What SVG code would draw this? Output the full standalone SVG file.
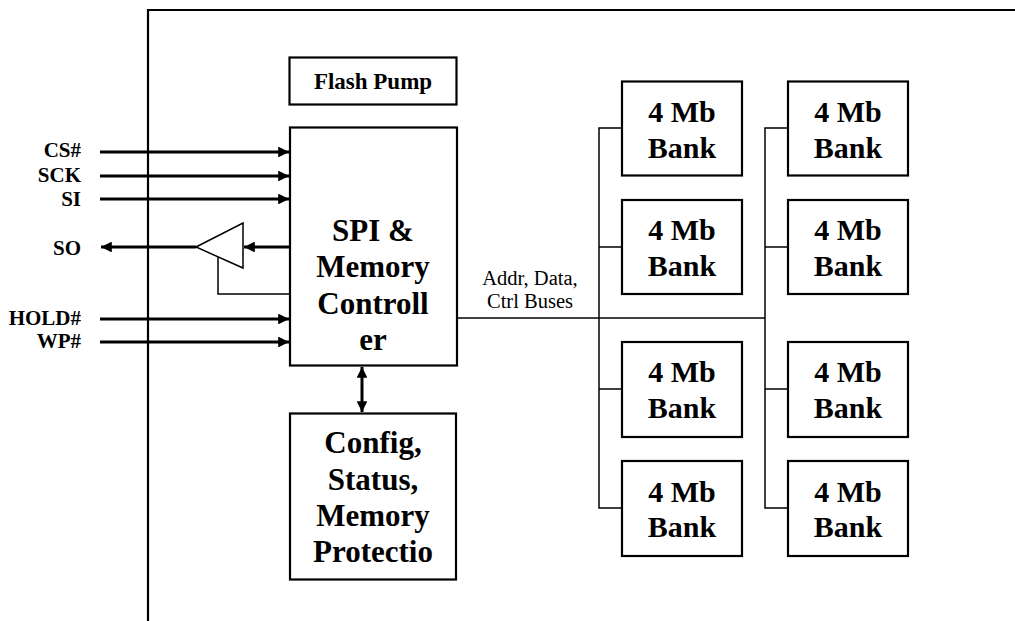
<svg xmlns="http://www.w3.org/2000/svg" width="1015" height="621" viewBox="0 0 1015 621">
<style>
.box{fill:#fff;stroke:#000;stroke-width:2.2}
.t{font-family:"Liberation Serif","DejaVu Serif",serif;font-weight:bold;fill:#000;text-anchor:middle}
.big{font-size:31px}
.bank{font-size:30px}
.sig{font-family:"Liberation Serif","DejaVu Serif",serif;font-weight:bold;font-size:21px;text-anchor:end}
.reg{font-family:"Liberation Serif","DejaVu Serif",serif;font-size:20.5px;text-anchor:middle}
.thick{stroke:#000;stroke-width:3;fill:none}
.thin{stroke:#000;stroke-width:1.5;fill:none}
</style>
<defs>
<marker id="ah" viewBox="0 0 10 10" refX="10" refY="5" markerWidth="4.2" markerHeight="3.6" orient="auto-start-reverse" markerUnits="strokeWidth">
<path d="M0,0 L10,5 L0,10 Z" fill="#000"/>
</marker>
</defs>
<rect width="1015" height="621" fill="#fff"/>
<path id="frame" d="M148,621 V10 H1015" fill="none" stroke="#000" stroke-width="2.2"/>

<g id="connectors">
<line class="thick" x1="100" y1="152" x2="289" y2="152" marker-end="url(#ah)"/>
<line class="thick" x1="100" y1="176" x2="289" y2="176" marker-end="url(#ah)"/>
<line class="thick" x1="100" y1="199" x2="289" y2="199" marker-end="url(#ah)"/>
<line class="thick" x1="289" y1="247" x2="244" y2="247" marker-end="url(#ah)"/>
<line class="thick" x1="196" y1="247" x2="101" y2="247" marker-end="url(#ah)"/>
<line class="thick" x1="100" y1="319" x2="289" y2="319" marker-end="url(#ah)"/>
<line class="thick" x1="100" y1="342" x2="289" y2="342" marker-end="url(#ah)"/>
<polyline class="thin" points="218,257 218,294 290,294"/>
<line class="thick" x1="362" y1="367" x2="362" y2="412" marker-start="url(#ah)" marker-end="url(#ah)"/>
<line class="thin" x1="457" y1="318" x2="765" y2="318"/>
<polyline class="thin" points="622,128 599,128 599,508 622,508"/>
<line class="thin" x1="599" y1="247" x2="622" y2="247"/>
<line class="thin" x1="599" y1="389" x2="622" y2="389"/>
<polyline class="thin" points="788,128 765,128 765,508 788,508"/>
<line class="thin" x1="765" y1="247" x2="788" y2="247"/>
<line class="thin" x1="765" y1="389" x2="788" y2="389"/>
</g>

<g id="buffer">
<polygon points="196,247 243,223 243,268" fill="#fff" stroke="#000" stroke-width="1.5"/>
</g>

<g id="signals">
<text class="sig" x="81" y="157">CS#</text>
<text class="sig" x="81" y="182">SCK</text>
<text class="sig" x="81" y="206">SI</text>
<text class="sig" x="81" y="255">SO</text>
<text class="sig" x="81" y="325">HOLD#</text>
<text class="sig" x="81" y="348">WP#</text>
</g>

<g id="flash-pump">
<rect class="box" x="289.5" y="57.5" width="167" height="47"/>
<text class="t" x="373" y="89" style="font-size:23px">Flash Pump</text>
</g>

<g id="controller">
<rect class="box" x="290" y="127.5" width="167" height="238"/>
<text class="t big" x="373" y="241">SPI &amp;</text>
<text class="t big" x="373" y="277">Memory</text>
<text class="t big" x="373" y="314">Controll</text>
<text class="t big" x="373" y="350">er</text>
</g>

<g id="config">
<rect class="box" x="290" y="413.5" width="166" height="166"/>
<text class="t big" x="373" y="453">Config,</text>
<text class="t big" x="373" y="490">Status,</text>
<text class="t big" x="373" y="526">Memory</text>
<text class="t big" x="373" y="562">Protectio</text>
</g>

<g id="bus-label">
<text class="reg" x="530" y="285">Addr, Data,</text>
<text class="reg" x="530" y="308">Ctrl Buses</text>
</g>

<g id="bank-1-1"><rect class="box" x="622" y="81.5" width="120" height="94"/><text class="t bank" x="682" y="122">4 Mb</text><text class="t bank" x="682" y="158">Bank</text></g>
<g id="bank-1-2"><rect class="box" x="622" y="200" width="120" height="94"/><text class="t bank" x="682" y="240">4 Mb</text><text class="t bank" x="682" y="276">Bank</text></g>
<g id="bank-1-3"><rect class="box" x="622" y="342" width="120" height="95"/><text class="t bank" x="682" y="382">4 Mb</text><text class="t bank" x="682" y="418">Bank</text></g>
<g id="bank-1-4"><rect class="box" x="622" y="461" width="120" height="95"/><text class="t bank" x="682" y="502">4 Mb</text><text class="t bank" x="682" y="537">Bank</text></g>
<g id="bank-2-1"><rect class="box" x="788" y="81.5" width="120" height="94"/><text class="t bank" x="848" y="122">4 Mb</text><text class="t bank" x="848" y="158">Bank</text></g>
<g id="bank-2-2"><rect class="box" x="788" y="200" width="120" height="94"/><text class="t bank" x="848" y="240">4 Mb</text><text class="t bank" x="848" y="276">Bank</text></g>
<g id="bank-2-3"><rect class="box" x="788" y="342" width="120" height="95"/><text class="t bank" x="848" y="382">4 Mb</text><text class="t bank" x="848" y="418">Bank</text></g>
<g id="bank-2-4"><rect class="box" x="788" y="461" width="120" height="95"/><text class="t bank" x="848" y="502">4 Mb</text><text class="t bank" x="848" y="537">Bank</text></g>
</svg>
